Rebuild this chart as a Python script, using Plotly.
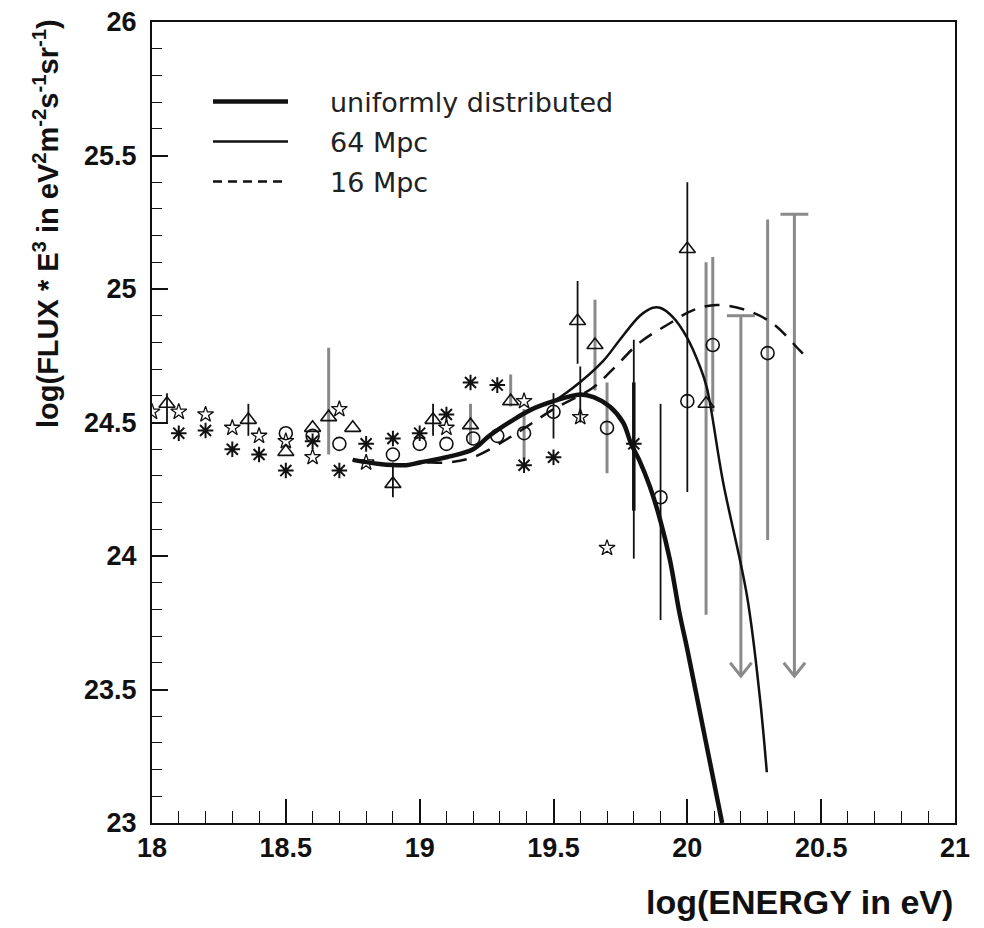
import plotly.graph_objects as go

# ---------------- data ----------------
# open stars
star_x = [18.0, 18.10, 18.20, 18.30, 18.40, 18.50, 18.60, 18.70, 18.80, 19.10, 19.39, 19.60, 19.70]
star_y = [24.54, 24.54, 24.53, 24.48, 24.45, 24.43, 24.37, 24.55, 24.35, 24.48, 24.58, 24.52, 24.03]
star_lo = [None] * 11 + [24.50, None]
star_hi = [None] * 11 + [24.71, None]
star_gray = [False] * 13

# asterisks
ast_x = [18.10, 18.20, 18.30, 18.40, 18.50, 18.60, 18.70, 18.80, 18.90, 19.00, 19.10, 19.19, 19.29, 19.39, 19.50, 19.80]
ast_y = [24.46, 24.47, 24.40, 24.38, 24.32, 24.43, 24.32, 24.42, 24.44, 24.46, 24.53, 24.65, 24.64, 24.34, 24.37, 24.42]
ast_lo = [None] * 15 + [23.99]
ast_hi = [None] * 15 + [24.81]
ast_gray = [False] * 16

# open triangles
tri_x = [18.056, 18.36, 18.50, 18.60, 18.66, 18.75, 18.90, 19.05, 19.19, 19.34, 19.59, 19.655, 20.00, 20.07]
tri_y = [24.57, 24.51, 24.39, 24.48, 24.52, 24.48, 24.27, 24.51, 24.49, 24.58, 24.88, 24.79, 25.15, 24.57]
tri_lo = [24.50, 24.45, None, None, 24.38, None, 24.22, 24.45, 24.42, 24.56, 24.72, 24.62, 24.24, 23.78]
tri_hi = [24.61, 24.57, None, None, 24.78, None, 24.35, 24.57, 24.57, 24.68, 25.03, 24.96, 25.40, 25.10]
tri_gray = [False, False, False, False, True, False, False, False, True, True, False, True, False, True]

# open circles
cir_x = [18.50, 18.60, 18.70, 18.90, 19.00, 19.10, 19.20, 19.29, 19.39, 19.50, 19.70, 19.90, 20.00, 20.095, 20.30]
cir_y = [24.46, 24.45, 24.42, 24.38, 24.42, 24.42, 24.44, 24.45, 24.46, 24.54, 24.48, 24.22, 24.58, 24.79, 24.76]
cir_lo = [None] * 8 + [24.36, 24.44, 24.31, 23.76, None, 24.54, 24.06]
cir_hi = [None] * 8 + [24.55, 24.61, 24.65, 24.57, None, 25.12, 25.26]
cir_gray = [False] * 8 + [True, False, True, False, False, True, True]

# additional heavy error bar near 19.8
extra_x = [19.80]
extra_lo = [24.17]
extra_hi = [24.65]

# upper limits (cap value, arrow tip)
ul_x = [20.20, 20.40]
ul_y = [24.90, 25.28]
ul_tip = [23.55, 23.55]

# model curves
uni_x = [18.75, 18.85, 18.95, 19.0, 19.1, 19.2, 19.26, 19.35, 19.42, 19.5, 19.6, 19.65, 19.71,
         19.76, 19.79, 19.82, 19.86, 19.90, 19.935, 19.97, 20.0, 20.05, 20.1, 20.13]
uni_y = [24.36, 24.345, 24.34, 24.35, 24.37, 24.40, 24.45, 24.51, 24.55, 24.58, 24.605, 24.595, 24.56,
         24.50, 24.42, 24.36, 24.26, 24.13, 23.985, 23.79, 23.65, 23.40, 23.15, 23.0]

m64_x = [18.75, 18.85, 18.95, 19.0, 19.1, 19.2, 19.26, 19.35, 19.42, 19.5, 19.573, 19.685, 19.748,
         19.823, 19.871, 19.898, 19.946, 19.998, 20.047, 20.073, 20.133, 20.223, 20.271, 20.297]
m64_y = [24.36, 24.345, 24.34, 24.35, 24.37, 24.40, 24.45, 24.51, 24.55, 24.58, 24.63, 24.73, 24.81,
         24.90, 24.93, 24.93, 24.895, 24.82, 24.71, 24.63, 24.28, 23.85, 23.47, 23.19]

m16_x = [18.75, 18.85, 18.95, 19.0, 19.1, 19.2, 19.33, 19.423, 19.5, 19.647, 19.722, 19.823, 19.924,
         20.02, 20.11, 20.223, 20.32, 20.42, 20.45]
m16_y = [24.36, 24.345, 24.34, 24.35, 24.35, 24.37, 24.44, 24.50, 24.55, 24.63, 24.70, 24.80, 24.865,
         24.92, 24.94, 24.92, 24.87, 24.77, 24.74]

legend_labels = ["uniformly distributed", "64 Mpc", "16 Mpc"]

x_ticks = [18, 18.5, 19, 19.5, 20, 20.5, 21]
x_ticktext = ["18", "18.5", "19", "19.5", "20", "20.5", "21"]
y_ticks = [23, 23.5, 24, 24.5, 25, 25.5, 26]
y_ticktext = ["23", "23.5", "24", "24.5", "25", "25.5", "26"]

# ---------------- figure ----------------
BLACK = "#111111"
GRAY = "#8a8a8a"
fig = go.Figure()


def bars(xs, los, his, grays, want_gray):
    bx, by = [], []
    for x, lo, hi, g in zip(xs, los, his, grays):
        if lo is None or g != want_gray:
            continue
        bx += [x, x, None]
        by += [lo, hi, None]
    return bx, by


for want_gray, col, w in [(True, GRAY, 3), (False, BLACK, 1.8)]:
    allx, ally = [], []
    for xs, los, his, gs in [(star_x, star_lo, star_hi, star_gray), (ast_x, ast_lo, ast_hi, ast_gray),
                             (tri_x, tri_lo, tri_hi, tri_gray), (cir_x, cir_lo, cir_hi, cir_gray)]:
        bx, by = bars(xs, los, his, gs, want_gray)
        allx += bx
        ally += by
    fig.add_trace(go.Scatter(x=allx, y=ally, mode="lines", line=dict(color=col, width=w),
                             hoverinfo="skip", showlegend=False))

# heavy extra bar
ex, ey = [], []
for x, lo, hi in zip(extra_x, extra_lo, extra_hi):
    ex += [x, x, None]
    ey += [lo, hi, None]
fig.add_trace(go.Scatter(x=ex, y=ey, mode="lines", line=dict(color=BLACK, width=3.5),
                         hoverinfo="skip", showlegend=False))

# upper limits
cap_dx = 0.052
head_dx = 0.04
head_dy = 0.05
ux, uy = [], []
for x, y, t in zip(ul_x, ul_y, ul_tip):
    ux += [x, x, None, x - cap_dx, x + cap_dx, None, x - head_dx, x, x + head_dx, None]
    uy += [y, t, None, y, y, None, t + head_dy, t, t + head_dy, None]
fig.add_trace(go.Scatter(x=ux, y=uy, mode="lines", line=dict(color=GRAY, width=3),
                         hoverinfo="skip", showlegend=False))

# markers
fig.add_trace(go.Scatter(x=star_x, y=star_y, mode="markers",
                         marker=dict(symbol="star-open", size=12, color=BLACK, line=dict(width=1.3, color=BLACK)),
                         showlegend=False))
fig.add_trace(go.Scatter(x=ast_x, y=ast_y, mode="markers",
                         marker=dict(symbol="asterisk-open", size=13, color=BLACK, line=dict(width=2, color=BLACK)),
                         showlegend=False))
fig.add_trace(go.Scatter(x=tri_x, y=tri_y, mode="markers",
                         marker=dict(symbol="triangle-up-open", size=14, color=BLACK, line=dict(width=1.6, color=BLACK)),
                         showlegend=False))
fig.add_trace(go.Scatter(x=cir_x, y=cir_y, mode="markers",
                         marker=dict(symbol="circle-open", size=13, color=BLACK, line=dict(width=1.6, color=BLACK)),
                         showlegend=False))

# curves
fig.add_trace(go.Scatter(x=m16_x, y=m16_y, mode="lines", name=legend_labels[2],
                         line=dict(color=BLACK, width=2.5, dash="15px,10px", shape="spline"), showlegend=False))
fig.add_trace(go.Scatter(x=m64_x, y=m64_y, mode="lines", name=legend_labels[1],
                         line=dict(color=BLACK, width=2.5, shape="spline"), showlegend=False))
fig.add_trace(go.Scatter(x=uni_x, y=uni_y, mode="lines", name=legend_labels[0],
                         line=dict(color=BLACK, width=4.5, shape="spline"), showlegend=False))

# The page body adds an 8px offset; the plot area is placed so that on the page it
# spans px 152-955 horizontally and 22-823 vertically.
PAGE_OFF = 8
L, T = 152 - PAGE_OFF, 22 - PAGE_OFF
PW, PH = 803, 801
W, H = 984, 928


def px_x(p):
    return (p - 152) / float(PW)


def px_y(p):
    return (823 - p) / float(PH)


leg_rows = [101.5, 141.5, 181.5]
leg_styles = [dict(width=4.5, dash="solid"), dict(width=2.5, dash="solid"), dict(width=2.5, dash="9px,6px")]
for lab, row, st in zip(legend_labels, leg_rows, leg_styles):
    fig.add_shape(type="line", xref="paper", yref="paper", x0=px_x(213), x1=px_x(288),
                  y0=px_y(row), y1=px_y(row), line=dict(color=BLACK, width=st["width"], dash=st["dash"]))
    fig.add_annotation(xref="paper", yref="paper", x=px_x(328), y=px_y(row + 1), text=lab,
                       showarrow=False, xanchor="left", yanchor="middle",
                       font=dict(family="DejaVu Sans", size=27, color="#222222"))

# axis titles
fig.add_annotation(xref="paper", yref="paper", x=1.0, y=px_y(902), xanchor="right", yanchor="middle",
                   text="log(ENERGY in eV)", showarrow=False,
                   font=dict(family="Liberation Sans", size=34, color=BLACK, weight="bold"))
fig.add_annotation(xref="paper", yref="paper", x=px_x(46), y=px_y(224), xanchor="center", yanchor="middle",
                   text="log(FLUX * E<sup>3</sup> in eV<sup>2</sup>m<sup>-2</sup>s<sup>-1</sup>sr<sup>-1</sup>)",
                   showarrow=False, textangle=-90,
                   font=dict(family="Liberation Sans", size=29, color=BLACK, weight="bold"))

axis_common = dict(showline=True, linecolor=BLACK, linewidth=2, mirror=True, showgrid=False, zeroline=False,
                   ticks="inside", tickcolor=BLACK, tickwidth=1.5, automargin=False,
                   ticklabeloverflow="allow",
                   tickfont=dict(family="Liberation Sans", size=27, color=BLACK, weight="bold"))

fig.update_layout(
    width=W, height=H,
    margin=dict(l=L, r=W - L - PW, t=T, b=H - T - PH, autoexpand=False),
    paper_bgcolor="white", plot_bgcolor="white",
    font=dict(family="Liberation Sans", color=BLACK),
    xaxis=dict(range=[18, 21], tickvals=x_ticks, ticktext=x_ticktext,
               ticklen=24, minor=dict(dtick=0.1, tick0=18, ticks="inside", ticklen=12, tickcolor=BLACK, tickwidth=1.2),
               **axis_common),
    yaxis=dict(range=[23, 26], tickvals=y_ticks, ticktext=y_ticktext,
               ticklen=16, minor=dict(dtick=0.1, tick0=23, ticks="inside", ticklen=10, tickcolor=BLACK, tickwidth=1.2),
               ticklabelstandoff=8, **axis_common),
)

fig.write_html("out.html")
